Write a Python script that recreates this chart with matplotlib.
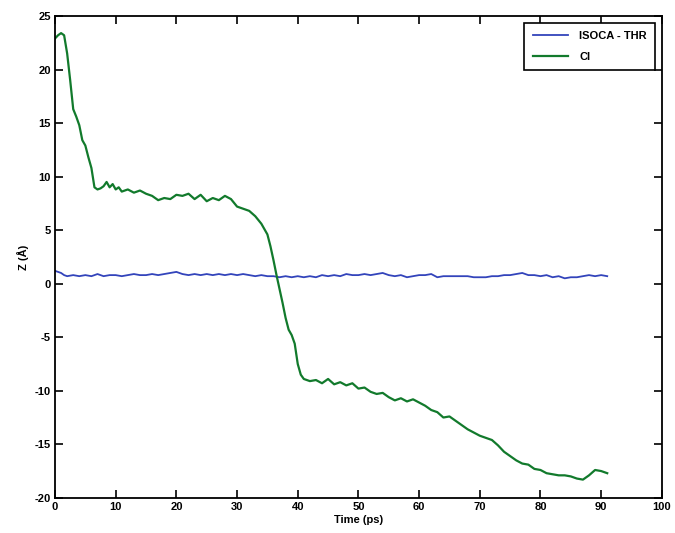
import numpy as np
import matplotlib
matplotlib.use('Agg')
import matplotlib.pyplot as plt

# values
t_cl = [0, 0.5, 1.0, 1.5, 2.0, 2.5, 3.0, 3.5, 4.0, 4.5, 5.0, 5.5, 6.0, 6.5, 7.0,
        7.5, 8.0, 8.5, 9.0, 9.5, 10.0, 10.5, 11, 12, 13, 14, 15, 16, 17, 18, 19,
        20, 21, 22, 23, 24, 25, 26, 27, 28, 29, 30, 31, 32, 33, 34, 35, 35.5, 36,
        36.5, 37, 37.5, 38, 38.5, 39, 39.5, 40, 40.5, 41, 42, 43, 44, 45, 46, 47,
        48, 49, 50, 51, 52, 53, 54, 55, 56, 57, 58, 59, 60, 61, 62, 63, 64, 65,
        66, 67, 68, 69, 70, 71, 72, 73, 74, 75, 76, 77, 78, 79, 80, 81, 82, 83,
        84, 85, 86, 87, 88, 89, 90, 91]
z_cl = [22.9, 23.2, 23.4, 23.2, 21.5, 19.0, 16.3, 15.6, 14.8, 13.4, 12.9, 11.8,
        10.8, 9.0, 8.8, 8.9, 9.1, 9.5, 9.0, 9.3, 8.8, 9.0, 8.6, 8.8, 8.5, 8.7,
        8.4, 8.2, 7.8, 8.0, 7.9, 8.3, 8.2, 8.4, 7.9, 8.3, 7.7, 8.0, 7.8, 8.2, 7.9,
        7.2, 7.0, 6.8, 6.3, 5.6, 4.6, 3.5, 2.2, 0.8, -0.5, -1.8, -3.2, -4.3, -4.8,
        -5.6, -7.5, -8.5, -8.9, -9.1, -9.0, -9.3, -8.9, -9.4, -9.2, -9.5, -9.3,
        -9.8, -9.7, -10.1, -10.3, -10.2, -10.6, -10.9, -10.7, -11.0, -10.8, -11.1,
        -11.4, -11.8, -12.0, -12.5, -12.4, -12.8, -13.2, -13.6, -13.9, -14.2,
        -14.4, -14.6, -15.1, -15.7, -16.1, -16.5, -16.8, -16.9, -17.3, -17.4,
        -17.7, -17.8, -17.9, -17.9, -18.0, -18.2, -18.3, -17.9, -17.4, -17.5, -17.7]

t_thr = [0, 0.5, 1, 1.5] + list(range(2, 92))
z_thr = [1.2, 1.1, 1.0, 0.8, 0.7, 0.8, 0.7, 0.8, 0.7, 0.9, 0.7, 0.8, 0.8, 0.7,
         0.8, 0.9, 0.8, 0.8, 0.9, 0.8, 0.9, 1.0, 1.1, 0.9, 0.8, 0.9, 0.8, 0.9,
         0.8, 0.9, 0.8, 0.9, 0.8, 0.9, 0.8, 0.7, 0.8, 0.7, 0.7, 0.6, 0.7, 0.6,
         0.7, 0.6, 0.7, 0.6, 0.8, 0.7, 0.8, 0.7, 0.9, 0.8, 0.8, 0.9, 0.8, 0.9,
         1.0, 0.8, 0.7, 0.8, 0.6, 0.7, 0.8, 0.8, 0.9, 0.6, 0.7, 0.7, 0.7, 0.7,
         0.7, 0.6, 0.6, 0.6, 0.7, 0.7, 0.8, 0.8, 0.9, 1.0, 0.8, 0.8, 0.7, 0.8,
         0.6, 0.7, 0.5, 0.6, 0.6, 0.7, 0.8, 0.7, 0.8, 0.7]

xticks = np.arange(0, 101, 10)
yticks = np.arange(-20, 26, 5)

plt.rcParams['font.family'] = ['Liberation Sans', 'DejaVu Sans']
plt.rcParams['axes.unicode_minus'] = False

fig = plt.figure(figsize=(6.75, 5.33), dpi=100)
ax = fig.add_axes([0.0815, 0.066, 0.899, 0.904])

ax.plot(t_thr, z_thr, color='#3344bb', lw=1.3, label='ISOCA - THR')
ax.plot(t_cl, z_cl, color='#127a2c', lw=1.6, label='Cl')

ax.set_xlim(0, 100)
ax.set_ylim(-20, 25)
ax.set_xticks(xticks)
ax.set_yticks(yticks)
ax.tick_params(direction='in', top=True, right=True, length=6, width=1.2,
               labelsize=8, pad=3)
for lab in ax.get_xticklabels() + ax.get_yticklabels():
    lab.set_fontweight('bold')
for sp in ax.spines.values():
    sp.set_linewidth(1.3)

ax.set_xlabel('Time (ps)', fontsize=8, fontweight='bold', labelpad=2)
ax.set_ylabel('Z (Å)', fontsize=8, fontweight='bold', labelpad=4)

leg = ax.legend(loc='upper right', fancybox=False, framealpha=1,
                edgecolor='black', borderaxespad=0.6, handlelength=3.2,
                borderpad=0.75, labelspacing=0.95, handletextpad=1.0,
                prop={'weight': 'bold', 'size': 8})
leg.get_frame().set_linewidth(1.2)

fig.savefig('out.png', dpi=100)
